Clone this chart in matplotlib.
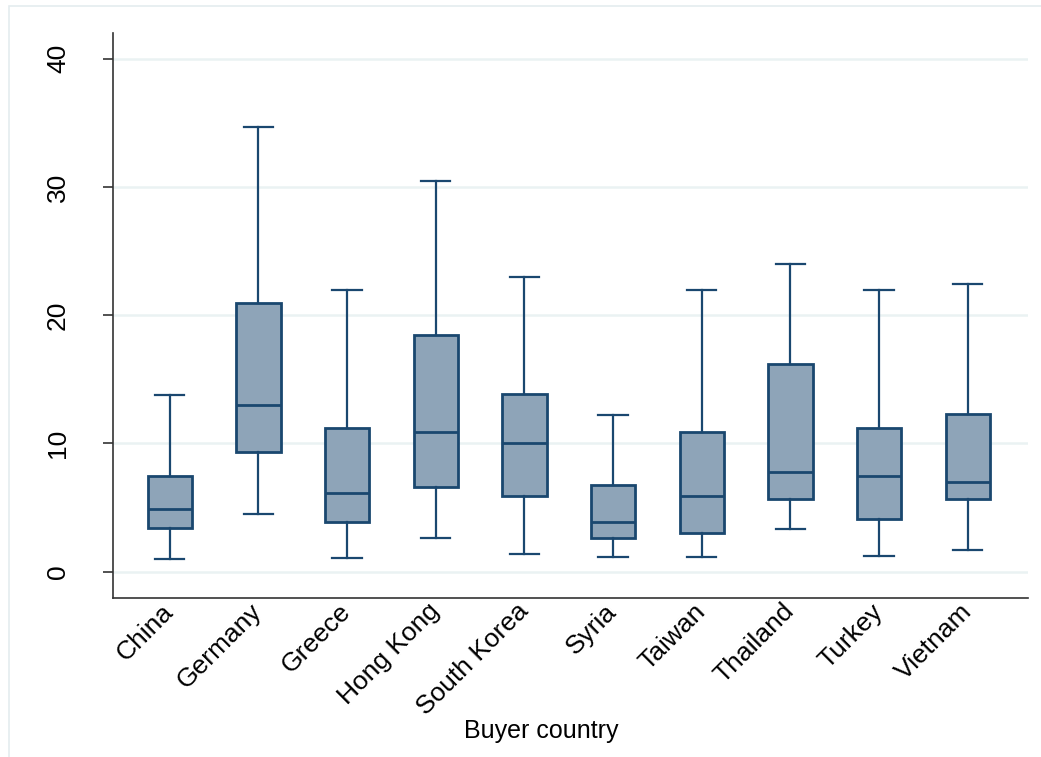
import matplotlib
matplotlib.use("Agg")
import matplotlib.pyplot as plt
from matplotlib.patches import Rectangle

# values
countries = ["China", "Germany", "Greece", "Hong Kong", "South Korea",
             "Syria", "Taiwan", "Thailand", "Turkey", "Vietnam"]
whisk_lo = [0.97, 4.52, 1.04, 2.60, 1.36, 1.17, 1.17, 3.35, 1.22, 1.67]
q1       = [3.37, 9.32, 3.87, 6.60, 5.90, 2.65, 2.99, 5.64, 4.13, 5.64]
median   = [4.89, 12.99, 6.10, 10.91, 10.00, 3.87, 5.90, 7.79, 7.48, 6.97]
q3       = [7.46, 20.97, 11.18, 18.45, 13.85, 6.73, 10.86, 16.19, 11.22, 12.27]
whisk_hi = [13.77, 34.65, 21.94, 30.45, 23.00, 12.20, 21.96, 23.96, 21.96, 22.40]
yticks = [0, 10, 20, 30, 40]

navy = "#1a476f"
fill = "#8ea4b8"

plt.rcParams["font.family"] = ["Liberation Sans", "DejaVu Sans"]

fig = plt.figure(figsize=(10.41, 7.57), dpi=100)
ax = fig.add_axes([113 / 1041, 159 / 757, 915 / 1041, 565 / 757])

# faint outer frame like the stata graph region
fig.patches.append(Rectangle((9 / 1041, -0.01), 1.0, 751 / 757 + 0.01,
                             transform=fig.transFigure, fill=False,
                             edgecolor="#e4ecef", lw=1.2))

stats = []
for i, name in enumerate(countries):
    stats.append(dict(label=name, whislo=whisk_lo[i], q1=q1[i], med=median[i],
                      q3=q3[i], whishi=whisk_hi[i], fliers=[]))

pos = list(range(len(countries)))
ax.bxp(stats, positions=pos, widths=0.5, capwidths=0.33, patch_artist=True,
       showfliers=False,
       boxprops=dict(facecolor=fill, edgecolor=navy, linewidth=2.0),
       medianprops=dict(color=navy, linewidth=2.0),
       whiskerprops=dict(color=navy, linewidth=1.6),
       capprops=dict(color=navy, linewidth=1.6))

ax.set_xlim(-0.64, 9.68)
ax.set_ylim(-2.05, 42.0)
ax.set_yticks(yticks)
ax.set_yticklabels([str(t) for t in yticks], rotation=90, va="center", fontsize=19)
ax.grid(axis="y", color="#eaf2f3", linewidth=1.8)
ax.set_axisbelow(True)

ax.set_xticks(pos)
ax.set_xticklabels(countries, rotation=45, ha="right", va="center",
                   rotation_mode="anchor", fontsize=19)
ax.tick_params(axis="x", length=0, pad=7)
ax.tick_params(axis="y", length=7, width=1.2, color="#333333", pad=24)

for side in ["top", "right"]:
    ax.spines[side].set_visible(False)
for side in ["left", "bottom"]:
    ax.spines[side].set_color("#333333")
    ax.spines[side].set_linewidth(1.2)

ax.set_xlabel("Buyer country", fontsize=18)
ax.xaxis.set_label_coords(0.468, -0.236)
ax.xaxis.label.set_va("center")

fig.savefig("out.png", dpi=100)
